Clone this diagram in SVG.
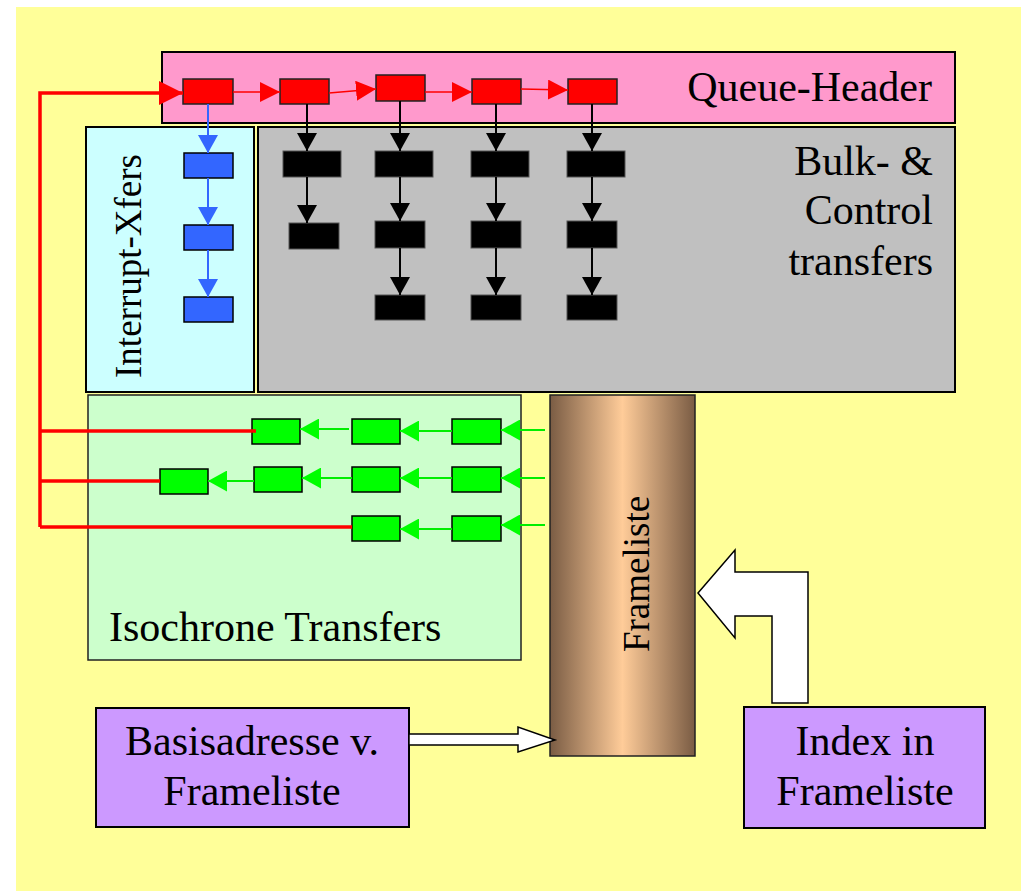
<svg xmlns="http://www.w3.org/2000/svg" width="1021" height="891" viewBox="0 0 1021 891">
<style>
.lbl{font-family:"Liberation Serif","Times New Roman",serif;font-size:42px;fill:#000}
.rot{font-family:"Liberation Serif","Times New Roman",serif;font-size:37px;fill:#000}
.panel{stroke:#000;stroke-width:2}
.rn{fill:#FF0000;stroke:#222;stroke-width:1.5}
.bn{fill:#000;stroke:#555;stroke-width:1}
.un{fill:#3366FF;stroke:#000;stroke-width:1.5}
.gn{fill:#00FF00;stroke:#000;stroke-width:1.5}
.rl{stroke:#FF0000;stroke-width:1.5;fill:none}
.bl{stroke:#000;stroke-width:2;fill:none}
.ul{stroke:#3366FF;stroke-width:2;fill:none}
.gl{stroke:#00EE00;stroke-width:2;fill:none}
.big{stroke:#FF0000;stroke-width:3.5;fill:none}
.wa{fill:#FFFFFF;stroke:#000;stroke-width:1.5}
</style>
<defs>
<linearGradient id="brown" x1="0" y1="0" x2="1" y2="0">
<stop offset="0" stop-color="#7A5C44"/>
<stop offset="0.5" stop-color="#FFCC99"/>
<stop offset="1" stop-color="#7A5C44"/>
</linearGradient>
<marker id="mr" viewBox="0 0 20 20" refX="20" refY="10" markerWidth="20" markerHeight="20" markerUnits="userSpaceOnUse" orient="auto"><path d="M0,0 L20,10 L0,20 z" fill="#FF0000"/></marker>
<marker id="mbig" viewBox="0 0 24 24" refX="24" refY="12" markerWidth="24" markerHeight="24" markerUnits="userSpaceOnUse" orient="auto"><path d="M0,0 L24,12 L0,24 z" fill="#FF0000"/></marker>
<marker id="mb" viewBox="0 0 18 20" refX="18" refY="10" markerWidth="18" markerHeight="20" markerUnits="userSpaceOnUse" orient="auto"><path d="M0,0 L18,10 L0,20 z" fill="#000"/></marker>
<marker id="mu" viewBox="0 0 18 20" refX="18" refY="10" markerWidth="18" markerHeight="20" markerUnits="userSpaceOnUse" orient="auto"><path d="M0,0 L18,10 L0,20 z" fill="#3366FF"/></marker>
<marker id="mg" viewBox="0 0 19 21" refX="19" refY="10.5" markerWidth="19" markerHeight="21" markerUnits="userSpaceOnUse" orient="auto"><path d="M0,0 L19,10.5 L0,21 z" fill="#00FF00"/></marker>
</defs>
<rect x="0" y="0" width="1021" height="891" fill="#FFFFFF"/>
<rect x="16" y="7" width="1005" height="884" fill="#FFFF99"/>

<g id="queue-header">
<rect class="panel" x="162" y="52" width="793" height="71" fill="#FF99CC"/>
<text class="lbl" x="932" y="101" text-anchor="end">Queue-Header</text>
</g>
<g id="interrupt-xfers">
<rect class="panel" x="86" y="127" width="168" height="265" fill="#CCFFFF"/>
<text class="rot" transform="translate(141,266) rotate(-90)" text-anchor="middle">Interrupt-Xfers</text>
</g>
<g id="bulk-control">
<rect class="panel" x="258" y="127" width="697" height="265" fill="#C0C0C0"/>
<text class="lbl" text-anchor="end"><tspan x="933" y="175">Bulk- &amp;</tspan><tspan x="933" y="224">Control</tspan><tspan x="933" y="275">transfers</tspan></text>
</g>
<g id="isochrone">
<rect x="88" y="395" width="433" height="265" fill="#CCFFCC" stroke="#222" stroke-width="1.5"/>
<text class="lbl" x="109" y="641">Isochrone Transfers</text>
</g>
<g id="frameliste">
<rect x="550" y="395" width="145" height="361" fill="url(#brown)" stroke="#222" stroke-width="1.5"/>
<text class="rot" transform="translate(649,574) rotate(-90)" text-anchor="middle">Frameliste</text>
</g>
<g id="basisadresse">
<rect x="96" y="708" width="313" height="119" fill="#CC99FF" stroke="#000" stroke-width="2"/>
<text class="lbl" text-anchor="middle"><tspan x="252" y="755">Basisadresse v.</tspan><tspan x="252" y="805">Frameliste</tspan></text>
</g>
<g id="index">
<rect x="744" y="707" width="241" height="121" fill="#CC99FF" stroke="#000" stroke-width="2"/>
<text class="lbl" text-anchor="middle"><tspan x="865" y="755">Index in</tspan><tspan x="865" y="805">Frameliste</tspan></text>
</g>

<g id="queue-nodes">
<rect id="q1" class="rn" x="183" y="79" width="50" height="25"/>
<rect id="q2" class="rn" x="280" y="79" width="49" height="25"/>
<rect id="q3" class="rn" x="376" y="75" width="49" height="26"/>
<rect id="q4" class="rn" x="472" y="79" width="49" height="25"/>
<rect id="q5" class="rn" x="568" y="79" width="49" height="25"/>
</g>
<g id="interrupt-nodes">
<rect class="un" x="184" y="153" width="49" height="25"/>
<rect class="un" x="184" y="225" width="49" height="25"/>
<rect class="un" x="184" y="297" width="49" height="25"/>
</g>
<g id="bulk-nodes">
<rect class="bn" x="283" y="151" width="58" height="26"/>
<rect class="bn" x="375" y="151" width="58" height="26"/>
<rect class="bn" x="471" y="151" width="58" height="26"/>
<rect class="bn" x="567" y="151" width="58" height="26"/>
<rect class="bn" x="289" y="223" width="50" height="26"/>
<rect class="bn" x="375" y="221" width="50" height="27"/>
<rect class="bn" x="471" y="221" width="50" height="27"/>
<rect class="bn" x="567" y="221" width="50" height="27"/>
<rect class="bn" x="375" y="295" width="50" height="25"/>
<rect class="bn" x="471" y="295" width="50" height="25"/>
<rect class="bn" x="567" y="295" width="50" height="25"/>
</g>
<g id="iso-nodes">
<rect class="gn" x="252" y="419" width="48" height="25"/>
<rect class="gn" x="352" y="419" width="48" height="25"/>
<rect class="gn" x="452" y="419" width="49" height="25"/>
<rect class="gn" x="160" y="469" width="48" height="25"/>
<rect class="gn" x="254" y="467" width="48" height="25"/>
<rect class="gn" x="352" y="467" width="48" height="25"/>
<rect class="gn" x="452" y="467" width="49" height="25"/>
<rect class="gn" x="352" y="516" width="48" height="25"/>
<rect class="gn" x="452" y="516" width="49" height="25"/>
</g>

<g id="connectors">
<line class="rl" x1="233" y1="92" x2="280" y2="92" marker-end="url(#mr)"/>
<line class="rl" x1="329" y1="93" x2="376" y2="89" marker-end="url(#mr)"/>
<line class="rl" x1="425" y1="92" x2="472" y2="92" marker-end="url(#mr)"/>
<line class="rl" x1="521" y1="89" x2="568" y2="90" marker-end="url(#mr)"/>

<line class="ul" x1="208" y1="104" x2="208" y2="153" marker-end="url(#mu)"/>
<line class="ul" x1="208" y1="178" x2="208" y2="225" marker-end="url(#mu)"/>
<line class="ul" x1="208" y1="250" x2="208" y2="297" marker-end="url(#mu)"/>

<line class="bl" x1="307" y1="104" x2="307" y2="151" marker-end="url(#mb)"/>
<line class="bl" x1="400" y1="101" x2="400" y2="151" marker-end="url(#mb)"/>
<line class="bl" x1="496" y1="104" x2="496" y2="151" marker-end="url(#mb)"/>
<line class="bl" x1="592" y1="104" x2="592" y2="151" marker-end="url(#mb)"/>
<line class="bl" x1="307" y1="177" x2="307" y2="223" marker-end="url(#mb)"/>
<line class="bl" x1="400" y1="177" x2="400" y2="221" marker-end="url(#mb)"/>
<line class="bl" x1="496" y1="177" x2="496" y2="221" marker-end="url(#mb)"/>
<line class="bl" x1="592" y1="177" x2="592" y2="221" marker-end="url(#mb)"/>
<line class="bl" x1="400" y1="248" x2="400" y2="295" marker-end="url(#mb)"/>
<line class="bl" x1="496" y1="248" x2="496" y2="295" marker-end="url(#mb)"/>
<line class="bl" x1="592" y1="248" x2="592" y2="295" marker-end="url(#mb)"/>

<line class="gl" x1="545" y1="430" x2="501" y2="430" marker-end="url(#mg)"/>
<line class="gl" x1="452" y1="431" x2="400" y2="431" marker-end="url(#mg)"/>
<line class="gl" x1="349" y1="429" x2="300" y2="429" marker-end="url(#mg)"/>
<line class="gl" x1="545" y1="478" x2="501" y2="478" marker-end="url(#mg)"/>
<line class="gl" x1="452" y1="478" x2="400" y2="478" marker-end="url(#mg)"/>
<line class="gl" x1="352" y1="478" x2="302" y2="478" marker-end="url(#mg)"/>
<line class="gl" x1="254" y1="481" x2="208" y2="481" marker-end="url(#mg)"/>
<line class="gl" x1="545" y1="525" x2="501" y2="525" marker-end="url(#mg)"/>
<line class="gl" x1="452" y1="529" x2="400" y2="529" marker-end="url(#mg)"/>

<polyline class="big" points="40,527 40,93 183,93" marker-end="url(#mbig)"/>
<line class="big" x1="40" y1="431" x2="256" y2="431"/>
<line class="big" x1="40" y1="481" x2="160" y2="481"/>
<line class="big" x1="40" y1="527" x2="352" y2="527"/>

<polygon class="wa" points="409,734 518,734 518,727 555,740 518,752 518,745 409,745"/>
<polygon class="wa" points="698,593 735,550 735,572 808,572 808,703 772,703 772,616 735,616 735,638"/>
</g>
</svg>
